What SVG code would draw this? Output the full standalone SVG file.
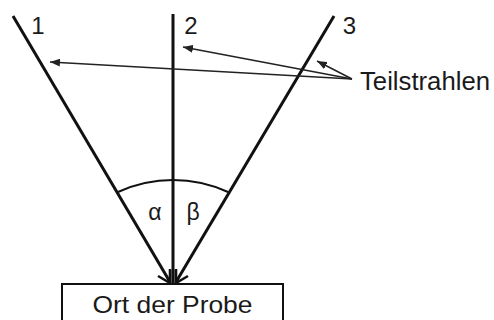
<svg xmlns="http://www.w3.org/2000/svg" width="494" height="320" viewBox="0 0 494 320">
<style>
.ray{stroke:#111;stroke-width:3;fill:none;stroke-linecap:butt}
.head{stroke:#111;stroke-width:2.6;fill:none;stroke-linejoin:miter}
.thin{stroke:#222;stroke-width:1.5;fill:none}
.lbl{font-family:"Liberation Sans",Arial,sans-serif;fill:#1a1a1a}
</style>
<defs>
<marker id="tip" viewBox="0 0 10 8" refX="10" refY="4" markerWidth="10" markerHeight="8" markerUnits="userSpaceOnUse" orient="auto">
<path d="M0,0 L10,4 L0,8 Z" fill="#222"/>
</marker>
</defs>
<rect width="494" height="320" fill="#fff"/>
<g id="connectors">
<line class="ray" x1="13" y1="16" x2="170" y2="282"/>
<path class="head" d="M158,276 L170,283 L170,269"/>
<line class="ray" x1="334" y1="16" x2="176" y2="282"/>
<path class="head" d="M188,276 L176,283 L176,269"/>
<line class="ray" x1="173" y1="14" x2="173" y2="283"/>
<path d="M170.5,270 L170.5,283 M175.5,270 L175.5,283" stroke="#111" stroke-width="1.5" fill="none"/>
<path d="M118,192 A132,132 0 0 1 228,192" stroke="#111" stroke-width="2" fill="none"/>
<line class="thin" x1="352" y1="79" x2="317" y2="61" marker-end="url(#tip)"/>
<line class="thin" x1="352" y1="79" x2="183" y2="47" marker-end="url(#tip)"/>
<line class="thin" x1="352" y1="79" x2="50" y2="62" marker-end="url(#tip)"/>
</g>
<g id="labels">
<text class="lbl" x="38" y="34" font-size="24" text-anchor="middle">1</text>
<text class="lbl" x="191" y="34" font-size="24" text-anchor="middle">2</text>
<text class="lbl" x="349.5" y="34" font-size="24" text-anchor="middle">3</text>
<text class="lbl" x="155" y="220" font-size="23" text-anchor="middle">α</text>
<text class="lbl" x="193" y="220" font-size="23" text-anchor="middle">β</text>
</g>
<g id="teilstrahlen">
<text class="lbl" x="360" y="90" font-size="25" textLength="130" lengthAdjust="spacingAndGlyphs">Teilstrahlen</text>
</g>
<g id="probe">
<rect x="62" y="284" width="221" height="50" fill="#fff" stroke="#111" stroke-width="2"/>
<text class="lbl" x="172.5" y="313" font-size="24" text-anchor="middle" textLength="160" lengthAdjust="spacingAndGlyphs">Ort der Probe</text>
</g>
</svg>
